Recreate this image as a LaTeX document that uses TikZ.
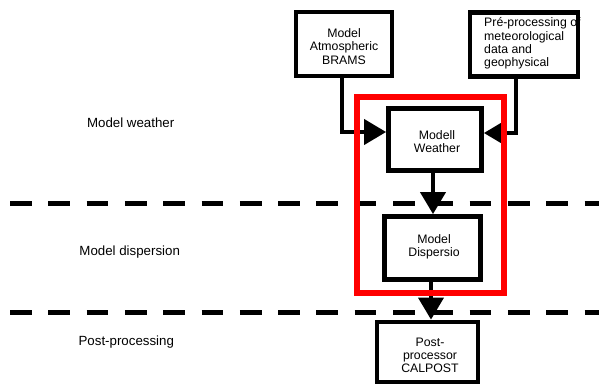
\documentclass[tikz,border=0pt]{standalone}
\usepackage{fontspec}
\setmainfont{Liberation Sans}
\usetikzlibrary{arrows.meta}
\tikzset{
  boxnode/.style={draw=black, line width=4.8pt, rectangle, inner sep=0pt},
  boxtext/.style={font=\fontsize{12.3pt}{13.3pt}\selectfont, align=center, inner sep=0pt},
  lbl/.style={font=\fontsize{13.3pt}{15pt}\selectfont, inner sep=0pt},
  arr/.style={line width=4pt, -{Triangle[length=22pt,width=25pt]}},
  sep/.style={line width=5pt, dash pattern=on 21.7pt off 16.6pt},
  redframe/.style={draw=red, line width=6pt}
}
\begin{document}
\begin{tikzpicture}[x=1pt,y=-1pt]
\useasboundingbox (0,0) rectangle (599,386);
% separators
\coordinate (d1s) at (10,203); \coordinate (d1e) at (599,203);
\coordinate (d2s) at (10,312); \coordinate (d2e) at (599,312);
\draw[sep] (d1s) -- (d1e);
\draw[sep] (d2s) -- (d2e);
% row labels
\node[lbl] (l1) at (130.7,123) {Model weather};
\node[lbl] (l2) at (129.7,251.7) {Model dispersion};
\node[lbl] (l3) at (126.3,342) {Post-processing};
% boxes
\node[boxnode, minimum width=96pt, minimum height=64pt] (brams) at (344,44) {};
\node[boxtext] (bramsT) at (344,46.5) {Model\\Atmospheric\\BRAMS};
\node[boxtext, align=left, anchor=west] (preT) at (484,43.5) {Pré-processing of\\meteorological\\data and\\geophysical};
\node[boxnode, minimum width=108pt, minimum height=64pt] (pre) at (524,44.5) {};
\node[boxnode, minimum width=93pt, minimum height=62pt] (weather) at (435,139.5) {};
\node[boxtext] (weatherT) at (437,141.5) {Modell\\Weather};
\node[boxnode, minimum width=96pt, minimum height=63pt] (disp) at (432.5,248) {};
\node[boxtext] (dispT) at (434,247) {Model\\Dispersio};
\node[boxnode, minimum width=101pt, minimum height=60pt] (post) at (427.5,352) {};
\node[boxtext] (postT) at (430,355.3) {Post-\\processor\\CALPOST};
% connectors
\coordinate (a1) at (342,132);
\coordinate (a2) at (516,133);
\coordinate (a3) at (433,0);
\coordinate (a4) at (431,0);
\draw[arr] (a1 |- brams.south) -- (a1) -- (a1 -| weather.west);
\draw[arr] (a2 |- pre.south) -- (a2) -- (a2 -| weather.east);
\draw[arr] (a3 |- weather.south) -- (a3 |- disp.north);
\draw[arr] (a4 |- disp.south) -- (a4 |- post.north);
% red frame
\coordinate (r1) at (357,97); \coordinate (r2) at (503.5,293);
\draw[redframe] (r1) rectangle (r2);
\end{tikzpicture}
\end{document}
